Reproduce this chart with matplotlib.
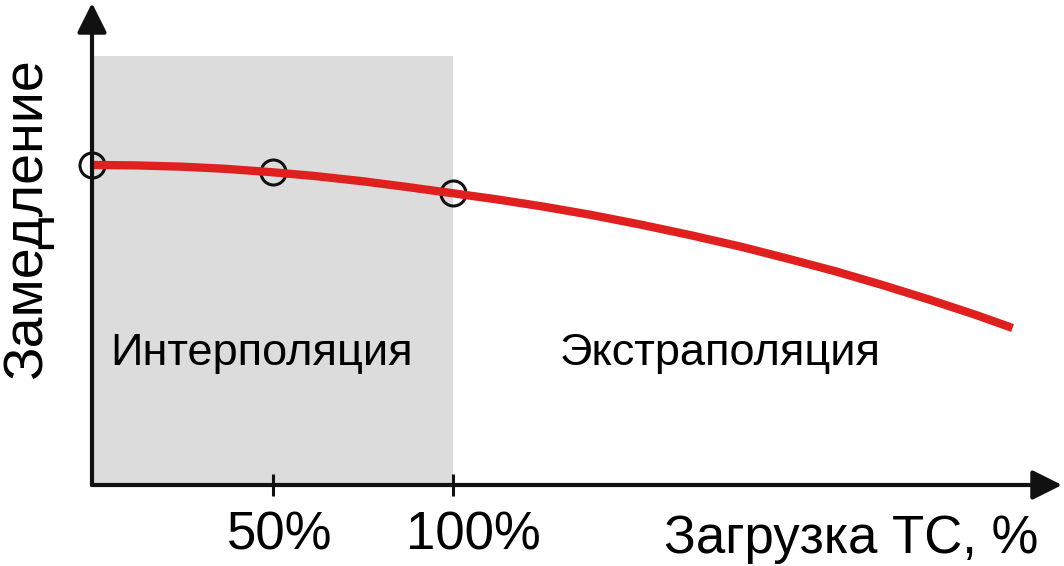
import matplotlib.pyplot as plt
import matplotlib.transforms as mtransforms

plt.rcParams['font.family'] = ['Liberation Sans', 'DejaVu Sans']

# curve (x: load in %, y: arbitrary units, 100 = top of grey band)
load_pct = [0, 12, 25, 37, 50, 62, 75, 87, 100, 112, 125, 138, 152, 166,
            180, 193, 206, 219, 232, 245, 255]
decel = [74.6, 74.5, 74.2, 73.7, 72.9, 72.0, 70.8, 69.5, 68.0, 66.6, 64.9,
         63.0, 60.7, 58.2, 55.5, 52.7, 49.8, 46.6, 43.2, 39.6, 36.6]
# measured points (circles)
point_pct = [0, 50, 100]
point_decel = [74.6, 72.9, 68.0]
tick_pos = [50, 100]
tick_labels = ['50%', '100%']

W, H = 1064, 566
fig = plt.figure(figsize=(W / 100, H / 100), dpi=100)
x0, y0 = 92, 485          # pixel position of the origin
px_per_x = 3.61
px_per_y = 4.29
xmax = (1062 - x0) / px_per_x
ymax = (y0 - 3) / px_per_y
ax = fig.add_axes([x0 / W, (H - y0) / H, (1062 - x0) / W, (y0 - 3) / H])
ax.set_xlim(0, xmax)
ax.set_ylim(0, ymax)
for s in ax.spines.values():
    s.set_visible(False)

# interpolation zone
ax.axvspan(0, 100, ymin=0, ymax=100 / ymax, color='#dcdcdc', lw=0, zorder=0)

# axes with arrow heads
arrow = dict(arrowstyle='-|>', mutation_scale=45, lw=3, color='#111111',
             shrinkA=0, shrinkB=0)
ax.annotate('', xy=(xmax, 0), xytext=(0, 0), arrowprops=arrow,
            annotation_clip=False, zorder=4)
ax.annotate('', xy=(0, ymax), xytext=(0, 0), arrowprops=arrow,
            annotation_clip=False, zorder=4)

ax.plot(point_pct, point_decel, 'o', ms=18, mfc='none', mec='#111111',
        mew=2.2, clip_on=False, zorder=2)
ax.plot(load_pct, decel, color='#e0201e', lw=6, solid_capstyle='butt',
        solid_joinstyle='round', clip_on=False, zorder=3)

ax.set_xticks(tick_pos)
ax.set_xticklabels(tick_labels, fontsize=38)
ax.tick_params(axis='x', direction='inout', length=16, width=2.2,
               color='#111111', pad=10)
ax.set_yticks([])
# labels sit a little to the right of their ticks in the original
for lab, dx in zip(ax.get_xticklabels(), [7, 20]):
    lab.set_transform(lab.get_transform() +
                      mtransforms.ScaledTranslation(dx / 100, 0, fig.dpi_scale_trans))

ax.text(47, 28, 'Интерполяция', fontsize=32.5, ha='center', va='baseline')
ax.text(174, 28, 'Экстраполяция', fontsize=32.5, ha='center', va='baseline')

fig.text(1038 / W, 1 - 553 / H, 'Загрузка ТС, %', fontsize=38,
         ha='right', va='baseline')
fig.text(1 / W, 1 - 219 / H, 'Замедление', fontsize=40, rotation=90,
         ha='left', va='center')

fig.savefig('out.png', dpi=100)
